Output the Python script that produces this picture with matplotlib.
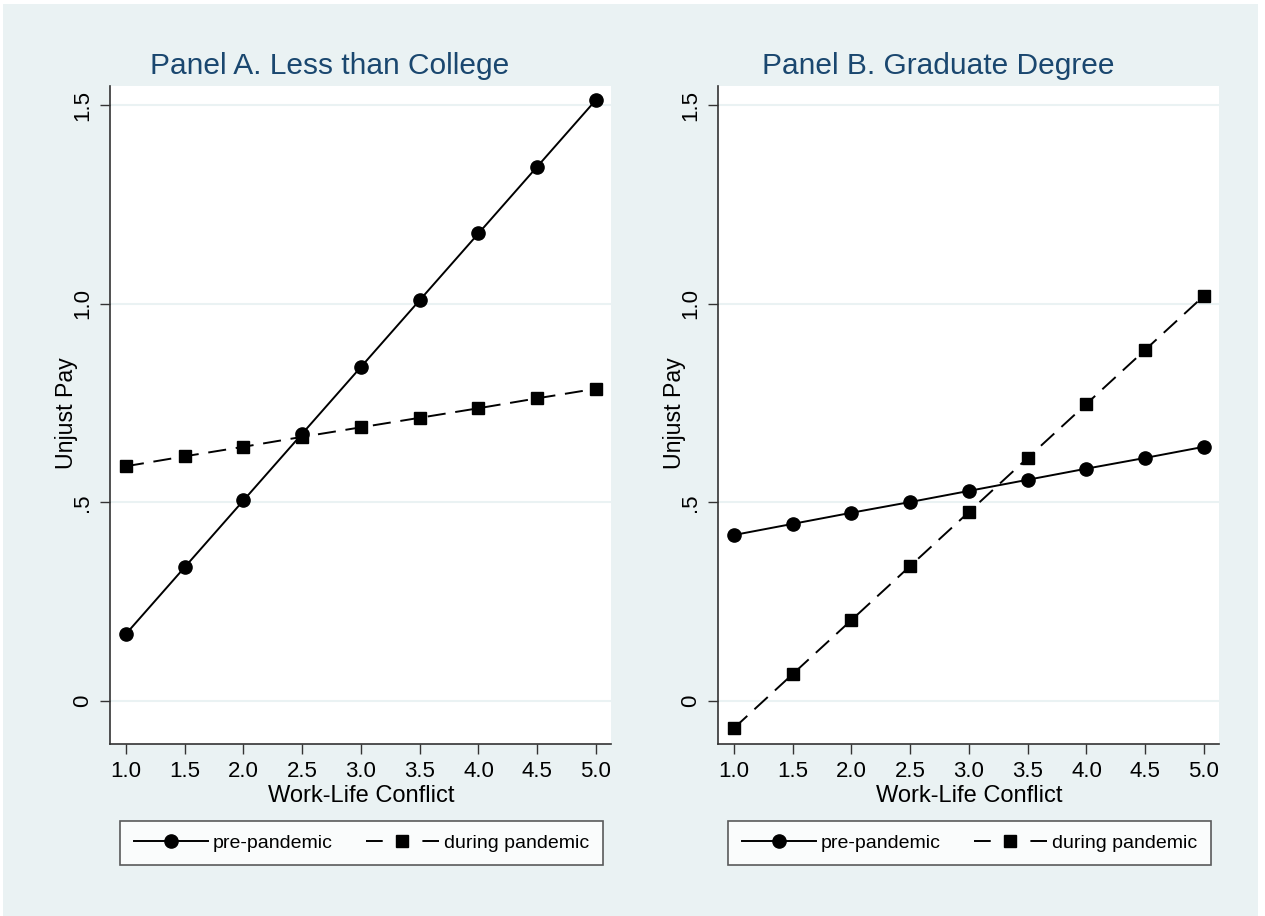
import matplotlib
matplotlib.use('Agg')
import matplotlib.pyplot as plt
from matplotlib.patches import Rectangle
from matplotlib.lines import Line2D

plt.rcParams['font.family'] = ['Liberation Sans', 'DejaVu Sans']

conflict = [1.0, 1.5, 2.0, 2.5, 3.0, 3.5, 4.0, 4.5, 5.0]

# Panel A: less than college
a_pre = [0.169, 0.337, 0.505, 0.673, 0.841, 1.009, 1.177, 1.345, 1.513]
a_during = [0.591, 0.616, 0.640, 0.665, 0.689, 0.713, 0.737, 0.762, 0.786]

# Panel B: graduate degree
b_pre = [0.418, 0.446, 0.474, 0.501, 0.529, 0.557, 0.585, 0.612, 0.640]
b_during = [-0.068, 0.068, 0.204, 0.340, 0.476, 0.612, 0.748, 0.884, 1.020]

titles = ['Panel A. Less than College', 'Panel B. Graduate Degree']
yticks = [0, 0.5, 1.0, 1.5]
ytick_labels = ['0', '.5', '1.0', '1.5']
xtick_labels = ['1.0', '1.5', '2.0', '2.5', '3.0', '3.5', '4.0', '4.5', '5.0']

W, H = 1265, 916
BG = '#eaf2f3'
NAVY = '#1a476f'
AXC = '#333333'

fig = plt.figure(figsize=(W / 100, H / 100), dpi=100)
fig.patch.set_facecolor('white')
fig.patches.append(Rectangle((3 / W, 0), (1258 - 3) / W, (H - 4) / H,
                             transform=fig.transFigure, facecolor=BG,
                             edgecolor='none', zorder=-10))

panels = [(110, a_pre, a_during), (718, b_pre, b_during)]
for i, (left, pre, during) in enumerate(panels):
    ax = fig.add_axes([left / W, (H - 744) / H, 501 / W, (744 - 86) / H])
    ax.set_facecolor('white')
    for y in yticks:
        ax.axhline(y, color=BG, lw=1.5, zorder=0)
    ax.plot(conflict, pre, '-', color='black', lw=1.4, marker='o',
            markersize=9.5, label='pre-pandemic')
    ax.plot(conflict, during, color='black', lw=1.4, ls=(0, (9.3, 5)),
            marker='s', markersize=9, label='during pandemic')
    ax.set_xlim(0.864, 5.128)
    ax.set_ylim(-0.108, 1.548)
    ax.set_xticks(conflict)
    ax.set_xticklabels(xtick_labels, fontsize=16)
    ax.set_yticks(yticks)
    ax.set_yticklabels(ytick_labels, fontsize=16, rotation=90, va='center')
    ax.tick_params(length=7, width=1, color=AXC, pad=5)
    for s in ['top', 'right']:
        ax.spines[s].set_visible(False)
    for s in ['left', 'bottom']:
        ax.spines[s].set_color(AXC)
        ax.spines[s].set_linewidth(1.2)

    fig.text((left + 220) / W, (H - 66) / H, titles[i], color=NAVY,
             fontsize=21.5, ha='center', va='center')
    fig.text((left - 44) / W, (H - 413) / H, 'Unjust Pay', fontsize=16.7,
             rotation=90, ha='center', va='center')
    fig.text((left + 251) / W, (H - 796) / H, 'Work-Life Conflict',
             fontsize=17, ha='center', va='center')

    handles = [Line2D([], [], color='black', lw=1.4, marker='o', markersize=9.5),
               Line2D([], [], color='black', lw=1.4, ls=(0, (8.6, 20.4)),
                      marker='s', markersize=9)]
    leg = fig.legend(handles, ['pre-pandemic', 'during pandemic'],
                     bbox_to_anchor=((left + 10) / W, 52 / H, 483 / W, 42 / H),
                     loc='center', mode='expand', ncol=2, fontsize=14,
                     handlelength=3.8, frameon=True, fancybox=False,
                     borderaxespad=0, borderpad=0.7, columnspacing=2.5,
                     handletextpad=0.25)
    leg.get_frame().set_edgecolor(AXC)
    leg.get_frame().set_linewidth(1.2)

fig.savefig('out.png', dpi=100, facecolor=fig.get_facecolor())
